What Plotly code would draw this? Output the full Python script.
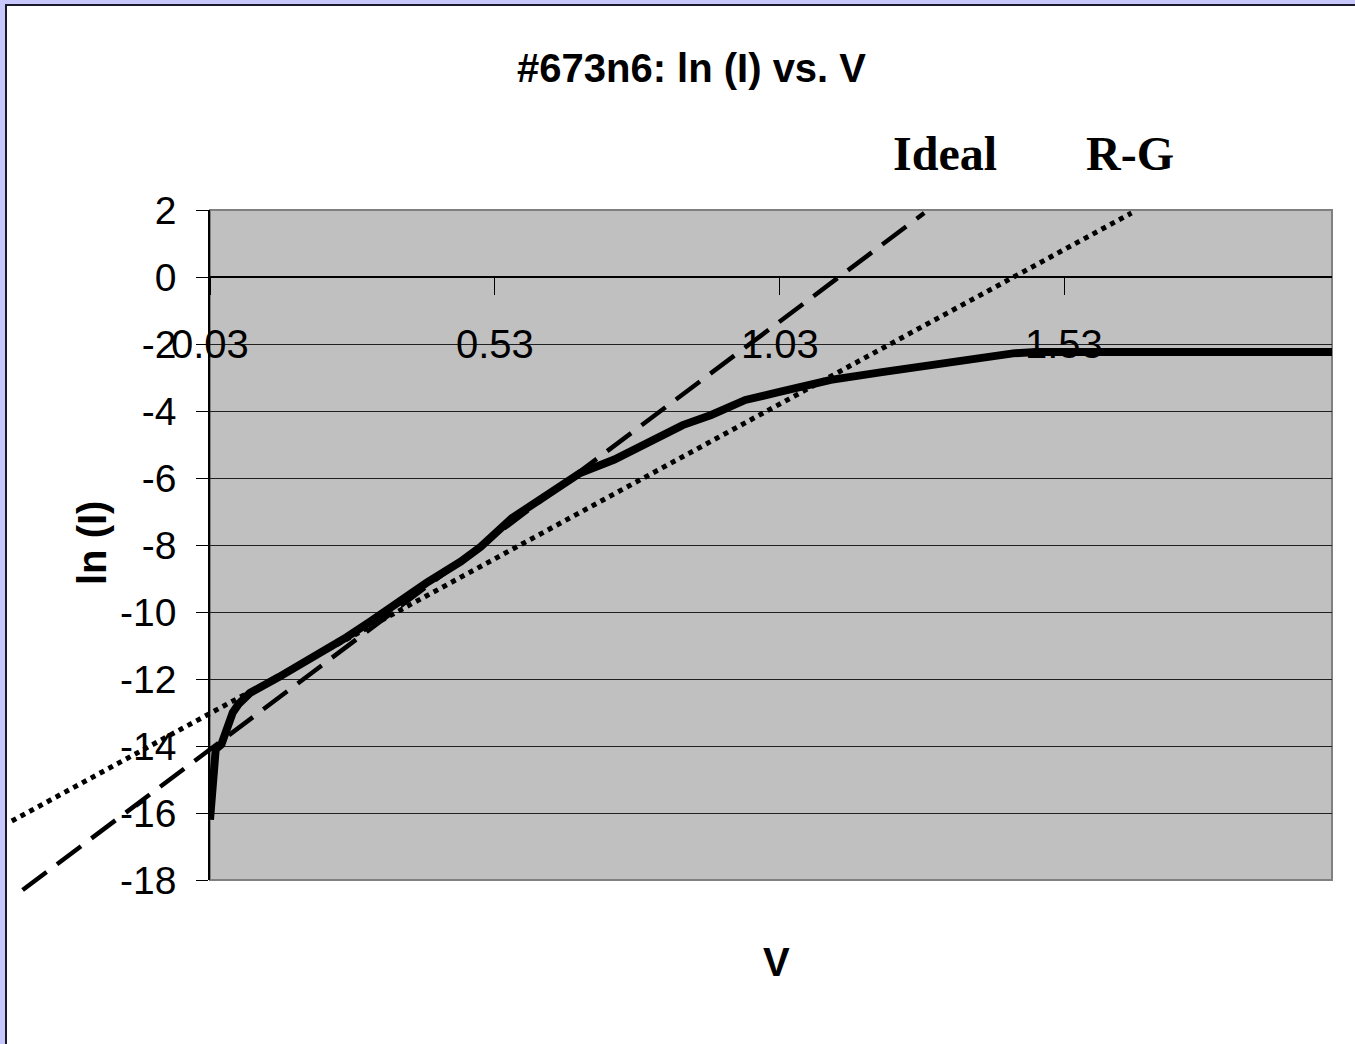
import plotly.graph_objects as go

# ---- data ----
V = [0.03, 0.04, 0.05, 0.06, 0.07, 0.08, 0.10, 0.15, 0.21, 0.27, 0.31, 0.36,
     0.41, 0.47, 0.505, 0.56, 0.62, 0.68, 0.74, 0.80, 0.86, 0.91, 0.97, 1.03,
     1.06, 1.12, 1.21, 1.30, 1.37, 1.41, 1.44, 1.48, 1.55, 1.70, 1.85, 2.00]
lnI = [-16.2, -14.1, -13.95, -13.5, -13.0, -12.75, -12.42, -11.95, -11.37, -10.75,
       -10.3, -9.7, -9.13, -8.5, -8.06, -7.2, -6.5, -5.85, -5.45, -4.93, -4.42,
       -4.12, -3.67, -3.43, -3.31, -3.07, -2.84, -2.63, -2.42, -2.34, -2.28, -2.24,
       -2.24, -2.24, -2.24, -2.24]

ideal_V = [-0.299, 1.284]
ideal_lnI = [-18.3, 1.91]
rg_V = [-0.318, 1.648]
rg_lnI = [-16.24, 1.91]

x_tickvals = [0.03, 0.53, 1.03, 1.53]
x_ticklabels = ["0.03", "0.53", "1.03", "1.53"]
y_tickvals = [-18, -16, -14, -12, -10, -8, -6, -4, -2, 0, 2]
y_ticklabels = ["-18", "-16", "-14", "-12", "-10", "-8", "-6", "-4", "-2", "0", "2"]
x_range = [0.03, 2.0]
y_range = [-18, 2]

# ---- geometry ----
W, H = 1355, 1044
def px(x):
    return x / W
def py(y):
    return 1 - y / H

xdom = [px(210), px(1332)]
ydom = [py(880), py(210)]

sx = (x_range[1] - x_range[0]) / (xdom[1] - xdom[0])
sy = (y_range[1] - y_range[0]) / (ydom[1] - ydom[0])
x2_range = [x_range[0] - xdom[0] * sx, x_range[1] + (1 - xdom[1]) * sx]
y2_range = [y_range[0] - ydom[0] * sy, y_range[1] + (1 - ydom[1]) * sy]

FONT = "Liberation Sans, Arial, sans-serif"
SERIF = "Liberation Serif, Times New Roman, serif"

fig = go.Figure()

fig.add_trace(go.Scatter(
    x=V, y=lnI, mode="lines", xaxis="x", yaxis="y",
    line=dict(color="black", width=8), hoverinfo="skip"))

fig.add_trace(go.Scatter(
    x=ideal_V, y=ideal_lnI, mode="lines", xaxis="x2", yaxis="y2",
    line=dict(color="black", width=4.5, dash="30px,13px"), hoverinfo="skip"))
fig.add_trace(go.Scatter(
    x=rg_V, y=rg_lnI, mode="lines", xaxis="x2", yaxis="y2",
    line=dict(color="black", width=5, dash="5px,5px"), hoverinfo="skip"))

x_axis_pos = ydom[0] + (0 - y_range[0]) / (y_range[1] - y_range[0]) * (ydom[1] - ydom[0])

fig.update_layout(
    width=W, height=H,
    margin=dict(l=0, r=0, t=0, b=0, pad=0, autoexpand=False),
    paper_bgcolor="#C8C8FF",
    plot_bgcolor="rgba(0,0,0,0)",
    showlegend=False,
    xaxis=dict(domain=xdom, range=x_range, anchor="free", position=x_axis_pos,
               showline=True, linecolor="black", linewidth=1.5,
               ticks="outside", ticklen=17, tickcolor="black", tickwidth=1,
               tickvals=x_tickvals, showticklabels=False, automargin=False,
               showgrid=False, zeroline=False, fixedrange=True),
    yaxis=dict(domain=ydom, range=y_range, anchor="x", automargin=False,
               showline=True, linecolor="black", linewidth=1.5,
               ticks="outside", ticklen=12, tickcolor="black",
               tickvals=y_tickvals, ticktext=y_ticklabels,
               tickfont=dict(family=FONT, size=39, color="black"),
               ticklabelstandoff=12,
               showgrid=True, gridcolor="#202020", gridwidth=1,
               zeroline=False, fixedrange=True),
    xaxis2=dict(domain=[0, 1], range=x2_range, anchor="y2", visible=False,
                automargin=False, showticklabels=False, fixedrange=True),
    yaxis2=dict(domain=[0, 1], range=y2_range, anchor="x2", visible=False,
                automargin=False, showticklabels=False, fixedrange=True),
)

# white chart area with dark border
fig.add_shape(type="rect", xref="paper", yref="paper",
              x0=px(6), y0=-0.05, x1=1.05, y1=py(5),
              fillcolor="white", line=dict(color="#1a1a2a", width=2), layer="below")
# grey plot area
fig.add_shape(type="rect", xref="x domain", yref="y domain",
              x0=0, y0=0, x1=1, y1=1,
              fillcolor="#C0C0C0", line=dict(color="#808080", width=2), layer="below")

# x tick labels (sit at the -2 level as in the reference)
for tv, tl in zip(x_tickvals, x_ticklabels):
    fig.add_annotation(x=tv, y=-2, xref="x", yref="y", text=tl, showarrow=False,
                       xanchor="center", yanchor="middle",
                       font=dict(family=FONT, size=40, color="black"))

# titles
fig.add_annotation(x=px(691), y=py(68), xref="paper", yref="paper",
                   text="<b>#673n6: ln (I) vs. V</b>", showarrow=False,
                   xanchor="center", yanchor="middle",
                   font=dict(family=FONT, size=40, color="black"))
fig.add_annotation(x=px(776), y=py(962), xref="paper", yref="paper",
                   text="<b>V</b>", showarrow=False, xanchor="center", yanchor="middle",
                   font=dict(family=FONT, size=40, color="black"))
fig.add_annotation(x=px(92), y=py(543), xref="paper", yref="paper",
                   text="<b>ln (I)</b>", showarrow=False, textangle=-90,
                   xanchor="center", yanchor="middle",
                   font=dict(family=FONT, size=40, color="black"))
fig.add_annotation(x=px(945), y=py(153), xref="paper", yref="paper",
                   text="<b>Ideal</b>", showarrow=False, xanchor="center", yanchor="middle",
                   font=dict(family=SERIF, size=48, color="black"))
fig.add_annotation(x=px(1130), y=py(153), xref="paper", yref="paper",
                   text="<b>R-G</b>", showarrow=False, xanchor="center", yanchor="middle",
                   font=dict(family=SERIF, size=48, color="black"))

fig.write_html("out.html", config={"displayModeBar": False},
               post_script="document.body.style.margin='0';document.body.style.overflow='hidden';")
